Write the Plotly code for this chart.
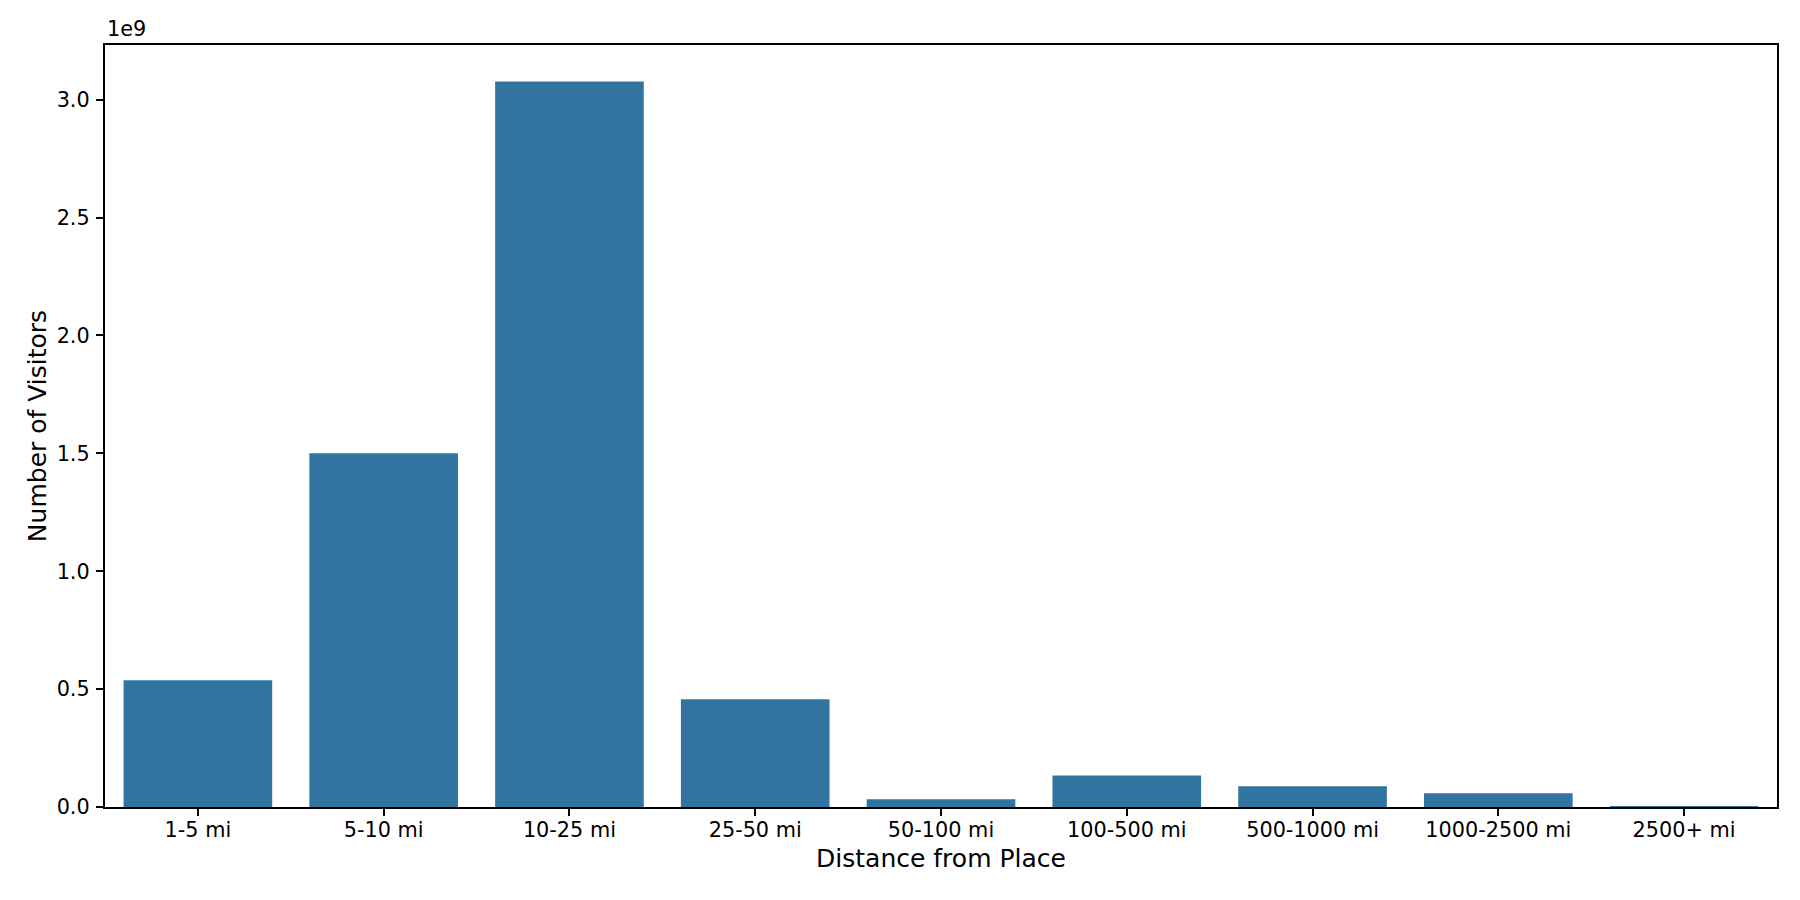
import plotly.graph_objects as go

categories = ["1-5 mi", "5-10 mi", "10-25 mi", "25-50 mi", "50-100 mi",
              "100-500 mi", "500-1000 mi", "1000-2500 mi", "2500+ mi"]
visitors = [0.538e9, 1.500e9, 3.077e9, 0.457e9, 0.033e9,
            0.134e9, 0.088e9, 0.058e9, 0.001e9]
ytick_vals = [0, 0.5e9, 1.0e9, 1.5e9, 2.0e9, 2.5e9, 3.0e9]
ytick_text = ["0.0", "0.5", "1.0", "1.5", "2.0", "2.5", "3.0"]

FONT = "DejaVu Sans"
TICK = 20.8
LABEL = 25

fig = go.Figure(go.Bar(
    x=categories, y=visitors, width=0.8,
    marker=dict(color="#3274a1", line=dict(width=0)),
))

axis_common = dict(
    showline=True, linecolor="black", linewidth=1.67, mirror=True,
    showgrid=False, zeroline=False,
    ticks="outside", ticklen=7.3, tickwidth=1.67, tickcolor="black",
    tickfont=dict(family=FONT, size=TICK, color="black"),
)

fig.update_layout(
    width=1800, height=900,
    margin=dict(l=105, r=23, t=45, b=93),
    plot_bgcolor="white", paper_bgcolor="white",
    showlegend=False,
    font=dict(family=FONT, color="black"),
    xaxis=dict(
        **axis_common,
        type="category", range=[-0.5, 8.5],
        title=dict(text="Distance from Place", font=dict(family=FONT, size=LABEL, color="black"), standoff=8),
        ticklabelstandoff=-4,
    ),
    yaxis=dict(
        **axis_common,
        range=[0, 3.232e9],
        tickmode="array", tickvals=ytick_vals, ticktext=ytick_text,
        title=dict(text="Number of Visitors", font=dict(family=FONT, size=LABEL, color="black"), standoff=3),
        ticklabelstandoff=2,
    ),
    annotations=[dict(
        text="1e9", xref="paper", yref="paper", x=0, y=1,
        xanchor="left", yanchor="bottom", showarrow=False, yshift=2,
        font=dict(family=FONT, size=TICK, color="black"),
    )],
)

fig.write_html("out.html", config={"displayModeBar": False},
               post_script="document.body.style.margin='0';")
